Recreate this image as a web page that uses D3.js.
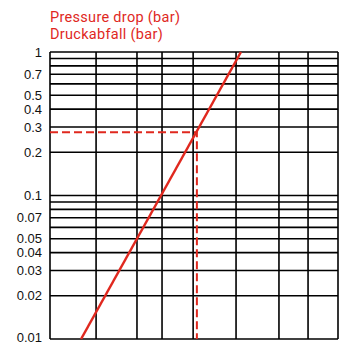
<!DOCTYPE html>
<html>
<head>
<meta charset="utf-8">
<script src="https://cdn.jsdelivr.net/npm/d3@7"></script>
<style>
  body { margin: 0; background: #fff; }
  svg { display: block; }
</style>
</head>
<body>
<svg id="chart"></svg>
<script>
// horizontal grid lines (bar) and the labelled ones
const yGrid = [1, 0.9, 0.8, 0.7, 0.6, 0.5, 0.4, 0.3, 0.2, 0.1, 0.09, 0.08, 0.07, 0.06, 0.05, 0.04, 0.03, 0.02, 0.01];
const yLabels = [1, 0.7, 0.5, 0.4, 0.3, 0.2, 0.1, 0.07, 0.05, 0.04, 0.03, 0.02, 0.01];
// vertical grid lines (no units shown on the chart)
const xGrid = [0, 16, 30.2, 38.9, 49.7, 64.6, 79.5, 89.6, 100];
// pressure drop curve
const curveX = [10.8, 66.3];
const curveY = [0.01, 1];
// reading example
const pointX = 51;
const pointY = 0.276;

const margin = { top: 52, right: 12, bottom: 6, left: 50 },
      width = 350 - margin.left - margin.right,
      height = 345 - margin.top - margin.bottom;

const red = "#e0281e";

const root = d3.select("#chart")
  .attr("width", 350)
  .attr("height", 345);

const svg = root.append("g")
  .attr("transform", `translate(${margin.left},${margin.top})`);

const x = d3.scaleLinear().domain([0, 100]).range([0, width]);
const y = d3.scaleLog().domain([0.01, 1]).range([height, 0]);

// grid
svg.append("g")
  .selectAll("line.h")
  .data(yGrid)
  .join("line")
  .attr("x1", 0).attr("x2", width)
  .attr("y1", d => y(d)).attr("y2", d => y(d))
  .attr("stroke", "#000")
  .attr("stroke-width", 1.6);

svg.append("g")
  .selectAll("line.v")
  .data(xGrid)
  .join("line")
  .attr("x1", d => x(d)).attr("x2", d => x(d))
  .attr("y1", 0).attr("y2", height)
  .attr("stroke", "#000")
  .attr("stroke-width", 1.6);

// y labels
svg.append("g")
  .selectAll("text")
  .data(yLabels)
  .join("text")
  .attr("x", -8)
  .attr("y", d => y(d))
  .attr("dy", d => d === 0.01 ? "0.2em" : "0.36em")
  .attr("text-anchor", "end")
  .style("font", "13px 'Liberation Sans', Arial, sans-serif")
  .attr("fill", "#111")
  .text(d => d);

// dashed reading lines
svg.append("path")
  .attr("d", d3.line()([[x(0), y(pointY)], [x(pointX), y(pointY)], [x(pointX), height]]))
  .attr("fill", "none")
  .attr("stroke", red)
  .attr("stroke-width", 2)
  .attr("stroke-dasharray", "8,4");

// curve
const line = d3.line().x(d => x(d[0])).y(d => y(d[1]));
svg.append("path")
  .datum(curveX.map((v, i) => [v, curveY[i]]))
  .attr("d", line)
  .attr("fill", "none")
  .attr("stroke", red)
  .attr("stroke-width", 2.5);

// title
const title = root.append("text")
  .attr("x", 50)
  .attr("y", 22)
  .attr("fill", red)
  .style("font", "14.5px Roboto, 'Liberation Sans', sans-serif")
  .style("letter-spacing", "0.3px");
title.append("tspan").attr("x", 50).text("Pressure drop (bar)");
title.append("tspan").attr("x", 50).attr("dy", 17).text("Druckabfall (bar)");
</script>
</body>
</html>
